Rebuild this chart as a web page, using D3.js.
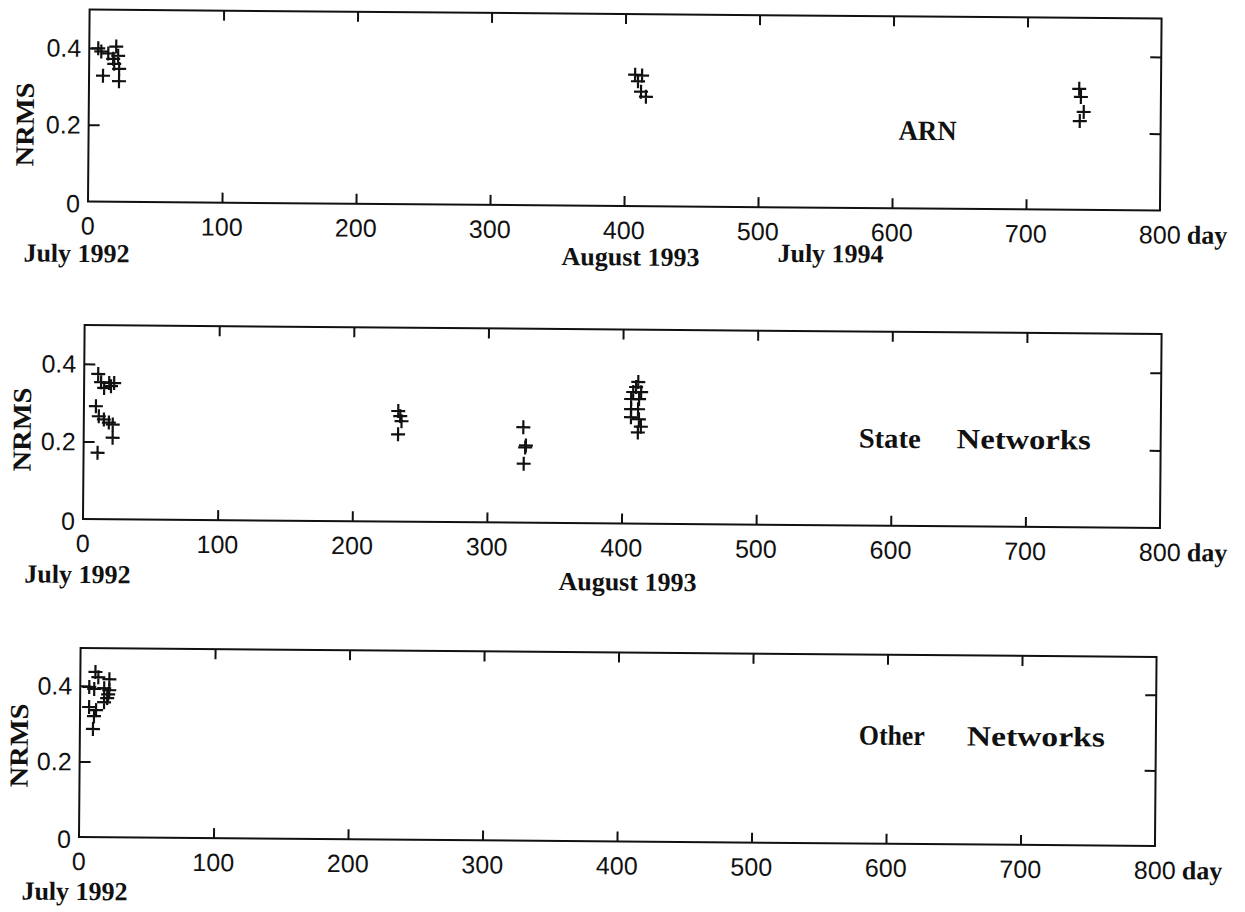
<!DOCTYPE html>
<html>
<head>
<meta charset="utf-8">
<script src="https://cdn.jsdelivr.net/npm/d3@7/dist/d3.min.js"></script>
<style>
  body { margin: 0; background: #fff; }
  .tick-label { font-family: "Liberation Sans", Arial, sans-serif; font-size: 25px; fill: #111; }
  .serif-bold { font-family: "Liberation Serif", "Times New Roman", serif; font-weight: bold; fill: #111; }
</style>
</head>
<body>
<svg id="chart" width="1245" height="912"></svg>
<script>
// Axis ticks
const dayTicks = [0, 100, 200, 300, 400, 500, 600, 700, 800];
const nrmsTicks = [0, 0.2, 0.4];

// ARN network: day since July 1992 and NRMS
const arnDay  = [6.7, 9.0, 14.2, 20.1, 17.9, 21.6, 18.7, 22.4, 10.4, 22.4,
                 407.5, 412.7, 409.7, 412.0, 415.7,
                 739.0, 740.3, 742.5, 739.6];
const arnNrms = [0.399, 0.391, 0.386, 0.404, 0.372, 0.380, 0.359, 0.346, 0.328, 0.314,
                 0.342, 0.340, 0.325, 0.298, 0.285,
                 0.315, 0.294, 0.255, 0.231];

// State networks
const stateDay  = [10.4, 12.6, 18.6, 22.3, 14.9, 20.0, 8.9, 11.1, 14.9, 18.6, 21.5, 21.5, 10.4,
                   233.5, 235.0, 236.0, 233.5,
                   326.5, 328.5, 328.0, 327.0,
                   411.6, 410.0, 407.9, 413.8, 406.4, 412.3, 406.4, 411.6, 406.4, 412.3, 413.8, 411.6];
const stateNrms = [0.374, 0.353, 0.351, 0.351, 0.338, 0.343, 0.291, 0.265, 0.257, 0.249, 0.244, 0.210, 0.171,
                   0.285, 0.272, 0.259, 0.225,
                   0.246, 0.199, 0.194, 0.152,
                   0.365, 0.352, 0.339, 0.339, 0.321, 0.321, 0.295, 0.295, 0.274, 0.269, 0.250, 0.235];

// Other networks
const otherDay  = [11.2, 13.4, 21.6, 6.7, 10.4, 17.8, 21.6, 20.8, 20.1, 17.8, 6.7, 11.9, 10.4, 9.7];
const otherNrms = [0.437, 0.423, 0.418, 0.397, 0.392, 0.394, 0.389, 0.378, 0.368, 0.357, 0.344, 0.336, 0.320, 0.286];

// Panel titles and date captions
const arnTitle   = ["ARN"];
const stateTitle = ["State", "Networks"];
const otherTitle = ["Other", "Networks"];
const arnDates   = ["July 1992", "August 1993", "July 1994"];
const stateDates = ["July 1992", "August 1993"];
const otherDates = ["July 1992"];

const panels = [
  { days: arnDay, nrms: arnNrms, title: arnTitle, dates: arnDates,
    left: 88, right: 1160, top: 9.5, bottom: 201.5,
    titleX: [898], titleLen: [58], titleY: 133,
    dateX: [77, 631, 831], dateY: [262, 261, 256], nrmsX: 33, nrmsY: 125 },
  { days: stateDay, nrms: stateNrms, title: stateTitle, dates: stateDates,
    left: 83, right: 1160, top: 325, bottom: 519,
    titleX: [858, 956], titleLen: [62, 134], titleY: 441,
    dateX: [78, 628], dateY: [583, 586], nrmsX: 30, nrmsY: 430 },
  { days: otherDay, nrms: otherNrms, title: otherTitle, dates: otherDates,
    left: 79, right: 1155, top: 648, bottom: 837,
    titleX: [858, 966], titleLen: [66, 138], titleY: 738,
    dateX: [75], dateY: [900], nrmsX: 27, nrmsY: 746 }
];

const svg = d3.select("#chart");
const tilt = 0.48;   // the whole figure sits slightly askew
const ink = "#111";

panels.forEach(p => {
  const g = svg.append("g").attr("transform", `rotate(${tilt}, ${p.left}, ${p.bottom})`);
  const x = d3.scaleLinear().domain([0, 800]).range([p.left, p.right]);
  const y = d3.scaleLinear().domain([0, 0.5]).range([p.bottom, p.top]);
  const inner = dayTicks.filter(d => d > 0 && d < 800);
  const innerY = nrmsTicks.filter(d => d > 0);

  // inward tick marks on all four sides
  const tickStyle = sel => {
    sel.select(".domain").remove();
    sel.selectAll("line").attr("stroke", ink).attr("stroke-width", 2);
    sel.selectAll("text").remove();
  };
  g.append("g").attr("transform", `translate(0,${p.bottom})`)
    .call(d3.axisBottom(x).tickValues(inner).tickSize(-10)).call(tickStyle);
  g.append("g").attr("transform", `translate(0,${p.top})`)
    .call(d3.axisTop(x).tickValues(inner).tickSize(-10)).call(tickStyle);
  g.append("g").attr("transform", `translate(${p.left},0)`)
    .call(d3.axisLeft(y).tickValues(innerY).tickSize(-11)).call(tickStyle);
  g.append("g").attr("transform", `translate(${p.right},0)`)
    .call(d3.axisRight(y).tickValues(innerY).tickSize(-11)).call(tickStyle);

  // frame
  g.append("rect")
    .attr("x", p.left).attr("y", p.top)
    .attr("width", p.right - p.left).attr("height", p.bottom - p.top)
    .attr("fill", "none").attr("stroke", ink).attr("stroke-width", 2);

  // x tick labels
  g.append("g").selectAll("text").data(dayTicks).join("text")
    .attr("class", "tick-label")
    .attr("x", d => x(d)).attr("y", p.bottom + 33)
    .attr("text-anchor", "middle")
    .text(d => d);
  g.append("text").attr("class", "serif-bold")
    .attr("x", x(800) + 27).attr("y", p.bottom + 33)
    .attr("font-size", 26)
    .text("day");

  // y tick labels
  g.append("g").selectAll("text").data(nrmsTicks).join("text")
    .attr("class", "tick-label")
    .attr("x", p.left - 8).attr("y", d => y(d) + 9 + (d === 0 ? 2 : 0))
    .attr("text-anchor", "end")
    .text(d => d === 0 ? "0" : d.toFixed(1));

  // y axis title
  g.append("text").attr("class", "serif-bold")
    .attr("font-size", 26)
    .attr("transform", `translate(${p.nrmsX},${p.nrmsY}) rotate(-90)`)
    .attr("text-anchor", "middle")
    .attr("textLength", 84).attr("lengthAdjust", "spacingAndGlyphs")
    .text("NRMS");

  // date captions under the axis
  g.append("g").selectAll("text").data(p.dates).join("text")
    .attr("class", "serif-bold")
    .attr("font-size", 26)
    .attr("x", (d, i) => p.dateX[i]).attr("y", (d, i) => p.dateY[i])
    .attr("text-anchor", "middle")
    .text(d => d);

  // panel title
  g.append("g").selectAll("text").data(p.title).join("text")
    .attr("class", "serif-bold")
    .attr("font-size", 28)
    .attr("x", (d, i) => p.titleX[i]).attr("y", p.titleY)
    .attr("textLength", (d, i) => p.titleLen[i]).attr("lengthAdjust", "spacingAndGlyphs")
    .text(d => d);

  // plus markers
  const pts = p.days.map((d, i) => [d, p.nrms[i]]);
  const arm = 7;
  g.append("g").selectAll("path").data(pts).join("path")
    .attr("d", d => {
      const cx = x(d[0]), cy = y(d[1]);
      return `M${cx - arm},${cy}H${cx + arm}M${cx},${cy - arm}V${cy + arm}`;
    })
    .attr("stroke", ink).attr("stroke-width", 2.2).attr("fill", "none");
});
</script>
</body>
</html>
